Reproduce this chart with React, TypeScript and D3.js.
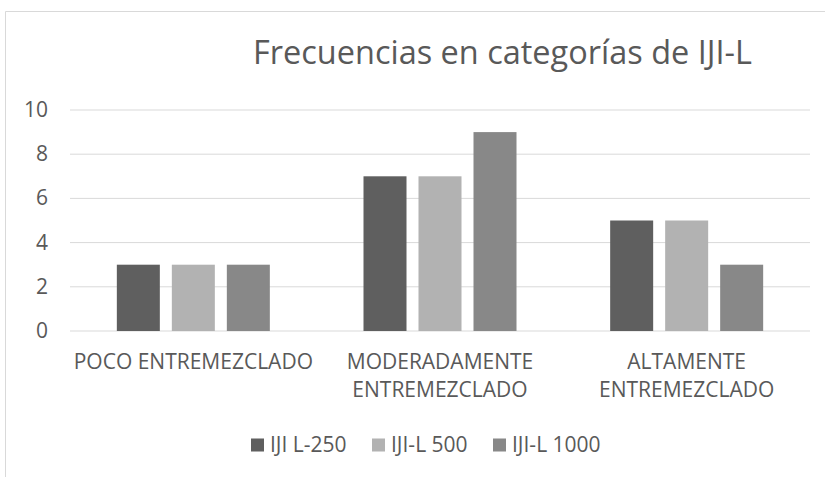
import React from "react";
import * as d3 from "d3";

const categories: string[][] = [
  ["POCO ENTREMEZCLADO"],
  ["MODERADAMENTE", "ENTREMEZCLADO"],
  ["ALTAMENTE", "ENTREMEZCLADO"],
];
const seriesNames = ["IJI L-250", "IJI-L 500", "IJI-L 1000"];
const seriesValues: number[][] = [
  [3, 7, 5],
  [3, 7, 5],
  [3, 9, 3],
];
const yTicks = [0, 2, 4, 6, 8, 10];
const title = "Frecuencias en categorías de IJI-L";
const colors = ["#5f5f5f", "#b2b2b2", "#888888"];

const FONT = "'Open Sans', 'Liberation Sans', sans-serif";
const TXT = "#595959";

export default function App() {
  const W = 825, H = 477;
  const left = 70, right = 810, top = 110, bottom = 331;
  const x = d3.scaleBand<number>().domain([0, 1, 2]).range([left, right]);
  const y = d3.scaleLinear().domain([0, 10]).range([bottom, top]);
  const barW = 43, gap = 12;
  const groupW = 3 * barW + 2 * gap;

  const legendX = [251, 372, 493];

  return (
    <svg width={W} height={H} style={{ position: "absolute", left: 0, top: 0, background: "#fff" }}>
      <rect x={0} y={0} width={W} height={H} fill="#fff" />
      <line x1={5.5} x2={825} y1={11.5} y2={11.5} stroke="#d9d9d9" strokeWidth={1} />
      <line x1={5.5} x2={5.5} y1={11.5} y2={477} stroke="#d9d9d9" strokeWidth={1} />
      <text x={253} y={64} textAnchor="start" fontFamily={FONT} fontSize={32} fill={TXT}
        textLength={499} lengthAdjust="spacingAndGlyphs">{title}</text>
      {yTicks.map((t) => (
        <g key={t}>
          <line x1={left} x2={right} y1={y(t)} y2={y(t)} stroke="#d9d9d9" strokeWidth={1} />
          <text x={48} y={y(t) + 7} textAnchor="end" fontFamily={FONT} fontSize={21} fill={TXT}>{t}</text>
        </g>
      ))}
      {categories.map((c, ci) => {
        const cx = (x(ci) as number) + x.bandwidth() / 2;
        return (
          <g key={ci}>
            {seriesValues.map((s, si) => (
              <rect key={si} x={cx - groupW / 2 + si * (barW + gap)} y={y(s[ci])} width={barW}
                height={y(0) - y(s[ci])} fill={colors[si]} />
            ))}
            {c.map((line, li) => (
              <text key={li} x={cx} y={369 + li * 28} textAnchor="middle" fontFamily={FONT}
                fontSize={21} fill={TXT}>{line}</text>
            ))}
          </g>
        );
      })}
      {seriesNames.map((n, i) => (
        <g key={n}>
          <rect x={legendX[i]} y={438.5} width={13} height={13} fill={colors[i]} />
          <text x={legendX[i] + 19} y={452} fontFamily={FONT} fontSize={21} fill={TXT}>{n}</text>
        </g>
      ))}
    </svg>
  );
}
